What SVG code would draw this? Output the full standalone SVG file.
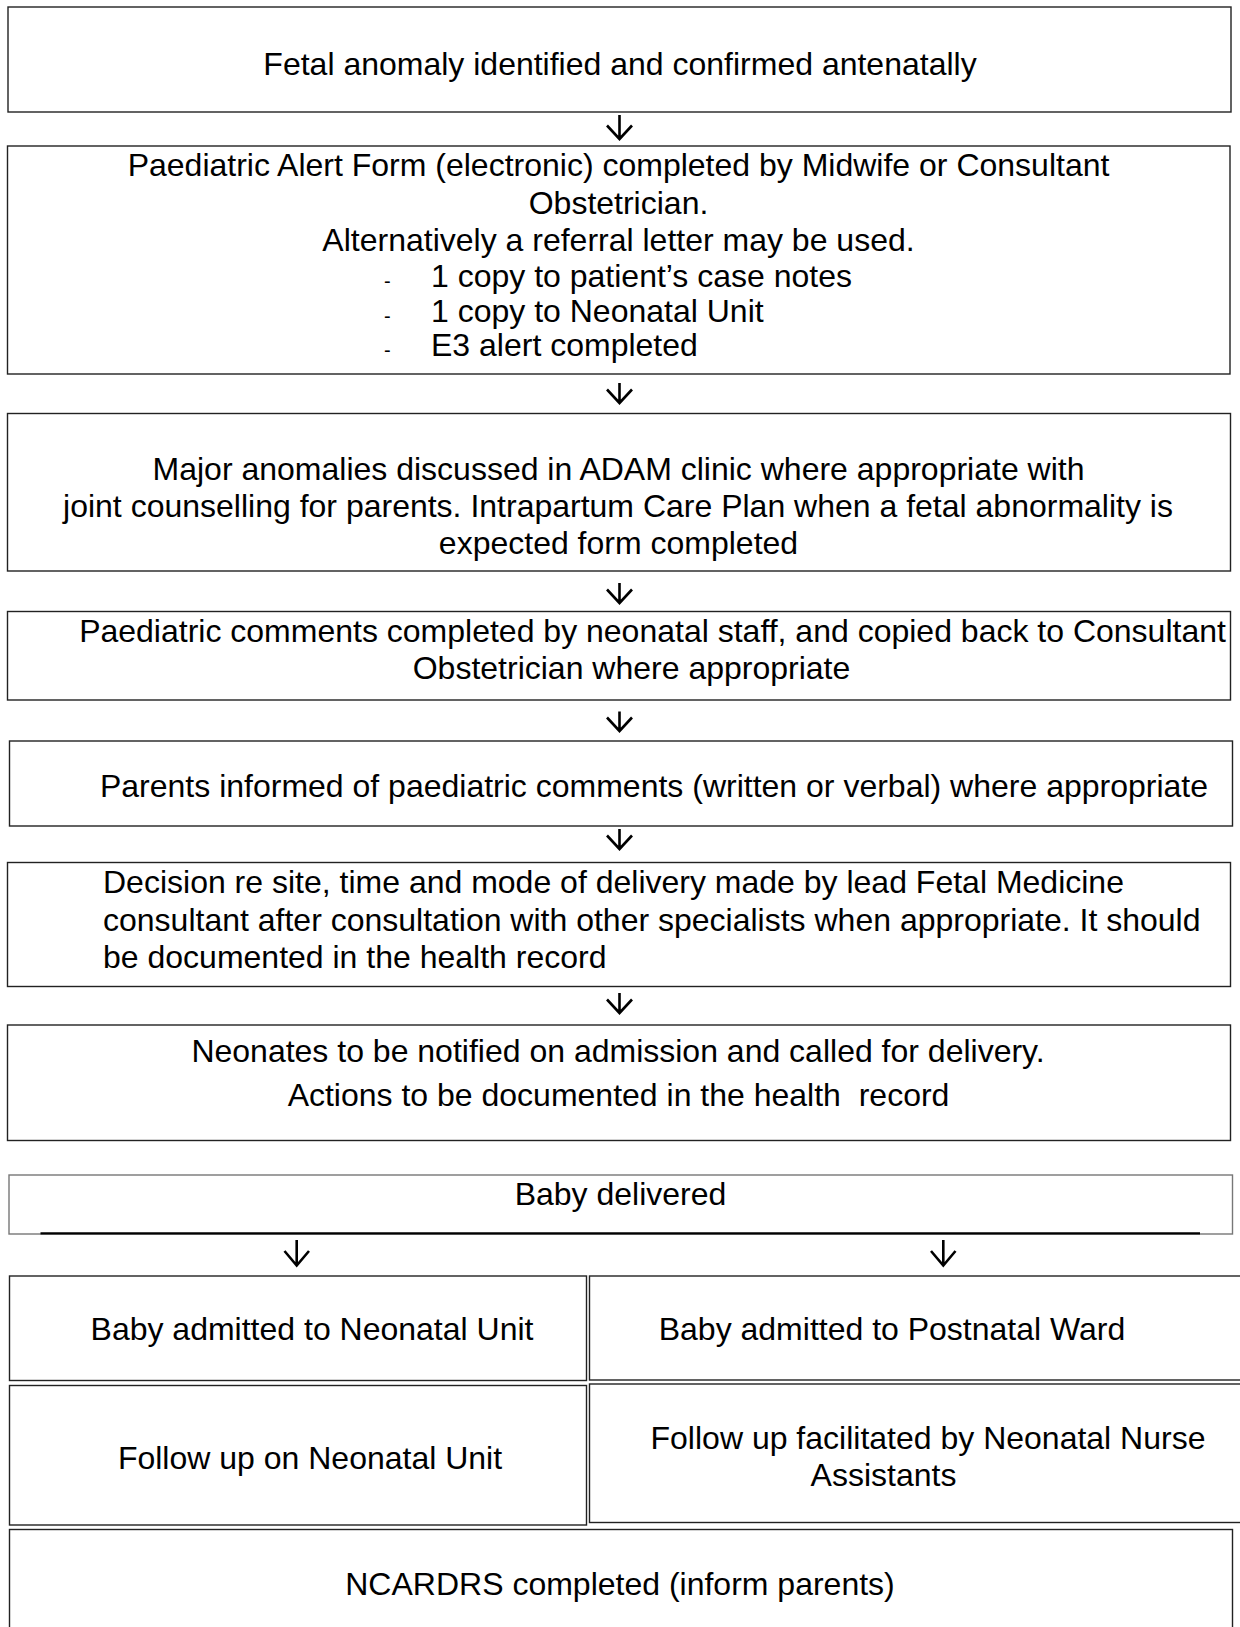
<svg xmlns="http://www.w3.org/2000/svg" width="1240" height="1627" viewBox="0 0 1240 1627">
<style>
  .box { fill: #ffffff; stroke: #222222; stroke-width: 1.4; }
  .gbox { fill: #ffffff; stroke: #777777; stroke-width: 1.4; }
  .t { font-family: "Liberation Sans", Arial, sans-serif; font-size: 32px; fill: #000000; }
  .c { text-anchor: middle; }
  .dash { font-family: "Liberation Sans", Arial, sans-serif; font-size: 20px; fill: #000000; }
  .arr { fill: none; stroke: #000000; stroke-width: 2.6; stroke-linecap: butt; stroke-linejoin: miter; }
</style>
<rect x="0" y="0" width="1240" height="1627" fill="#ffffff"/>

<g id="n1">
  <rect class="box" x="8" y="7" width="1223" height="105"/>
  <text class="t c" x="620" y="75">Fetal anomaly identified and confirmed antenatally</text>
</g>

<g id="n2">
  <rect class="box" x="7.5" y="146" width="1222.5" height="228"/>
  <text class="t c" x="618.5" y="176">Paediatric Alert Form (electronic) completed by Midwife or Consultant</text>
  <text class="t c" x="618.5" y="213.5">Obstetrician.</text>
  <text class="t c" x="618.5" y="250.5">Alternatively a referral letter may be used.</text>
  <text class="dash" x="384" y="288">-</text>
  <text class="t" x="431" y="287">1 copy to patient’s case notes</text>
  <text class="dash" x="384" y="322.5">-</text>
  <text class="t" x="431" y="321.5">1 copy to Neonatal Unit</text>
  <text class="dash" x="384" y="356.5">-</text>
  <text class="t" x="431" y="355.5">E3 alert completed</text>
</g>

<g id="n3">
  <rect class="box" x="7.5" y="413.5" width="1223" height="157.5"/>
  <text class="t c" x="618.5" y="479.5">Major anomalies discussed in ADAM clinic where appropriate with</text>
  <text class="t c" x="618" y="516.5">joint counselling for parents. Intrapartum Care Plan when a fetal abnormality is</text>
  <text class="t c" x="618.5" y="553.5">expected form completed</text>
</g>

<g id="n4">
  <rect class="box" x="7.5" y="611.5" width="1223" height="88.5"/>
  <text class="t c" x="652.5" y="642">Paediatric comments completed by neonatal staff, and copied back to Consultant</text>
  <text class="t c" x="631.5" y="678.5">Obstetrician where appropriate</text>
</g>

<g id="n5">
  <rect class="box" x="9.5" y="741" width="1223" height="85"/>
  <text class="t c" x="654" y="797">Parents informed of paediatric comments (written or verbal) where appropriate</text>
</g>

<g id="n6">
  <rect class="box" x="7.5" y="862.5" width="1223" height="124"/>
  <text class="t" x="103" y="893">Decision re site, time and mode of delivery made by lead Fetal Medicine</text>
  <text class="t" x="103" y="930.5">consultant after consultation with other specialists when appropriate. It should</text>
  <text class="t" x="103" y="968">be documented in the health record</text>
</g>

<g id="n7">
  <rect class="box" x="7.5" y="1025" width="1223" height="115.5"/>
  <text class="t c" x="618" y="1062">Neonates to be notified on admission and called for delivery.</text>
  <text class="t c" x="618.5" y="1106" xml:space="preserve">Actions to be documented in the health  record</text>
</g>

<g id="n8">
  <rect class="gbox" x="9" y="1175" width="1223.5" height="59"/>
  <line x1="40.5" y1="1233.3" x2="1200" y2="1233.3" stroke="#000000" stroke-width="2.2"/>
  <text class="t c" x="620.5" y="1205">Baby delivered</text>
</g>

<g id="n9">
  <rect class="box" x="9.5" y="1276" width="577" height="104.5"/>
  <text class="t c" x="312" y="1340">Baby admitted to Neonatal Unit</text>
</g>

<g id="n10">
  <rect class="box" x="589.5" y="1276" width="660" height="104"/>
  <text class="t c" x="892" y="1340">Baby admitted to Postnatal Ward</text>
</g>

<g id="n11">
  <rect class="box" x="9.5" y="1385.5" width="577" height="139.5"/>
  <text class="t c" x="310" y="1468.5">Follow up on Neonatal Unit</text>
</g>

<g id="n12">
  <rect class="box" x="589.5" y="1384" width="660" height="138.5"/>
  <text class="t c" x="928" y="1449">Follow up facilitated by Neonatal Nurse</text>
  <text class="t c" x="883.5" y="1486">Assistants</text>
</g>

<g id="n13">
  <rect class="box" x="9.5" y="1529.5" width="1223" height="120"/>
  <text class="t c" x="620" y="1595">NCARDRS completed (inform parents)</text>
</g>

<g id="connectors">
  <path class="arr" d="M619.5 115 V139 M607 125.5 L619.5 139 L632 125.5"/>
  <path class="arr" d="M619.5 383 V403 M607 389.5 L619.5 403 L632 389.5"/>
  <path class="arr" d="M619.5 583 V603 M607 589.5 L619.5 603 L632 589.5"/>
  <path class="arr" d="M619.5 711.5 V731 M607 717.5 L619.5 731 L632 717.5"/>
  <path class="arr" d="M619.5 829 V849 M607 835.5 L619.5 849 L632 835.5"/>
  <path class="arr" d="M619.5 993 V1013 M607 999.5 L619.5 1013 L632 999.5"/>
  <path class="arr" d="M296.7 1240 V1265.5 M284.5 1251 L296.7 1265.5 L309 1251"/>
  <path class="arr" d="M943.3 1240 V1265.5 M931 1251 L943.3 1265.5 L955.5 1251"/>
</g>
</svg>
